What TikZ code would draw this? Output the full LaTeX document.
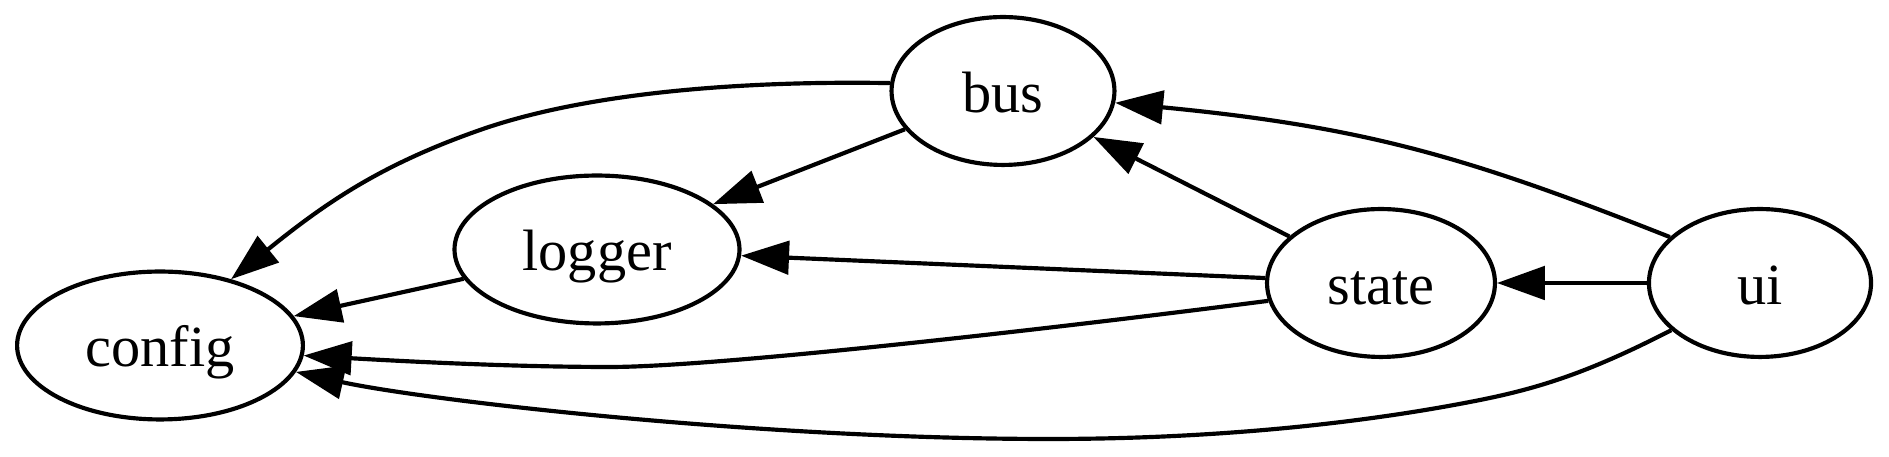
\documentclass[tikz,border=0pt]{standalone}
\usepackage{fontspec}
\setmainfont{Liberation Serif}
\usetikzlibrary{arrows.meta,shapes.geometric}
\begin{document}
\begin{tikzpicture}[x=0.24pt,y=-0.24pt,
  gnode/.style={ellipse,draw,line width=1pt,inner sep=0pt,minimum height=35.5pt,
    text height=10.2pt,text depth=0pt,font=\fontsize{14pt}{16pt}\selectfont},
  edge/.style={line width=1pt,-{Triangle[length=11.5pt,width=8pt]}}]
\useasboundingbox (0,0) rectangle (1889,457);
\node[gnode,minimum width=68.6pt] (config) at (160,345.5) {config};
\node[gnode,minimum width=68.4pt] (logger) at (597,249.5) {logger};
\node[gnode,minimum width=53.5pt] (bus) at (1003,91) {bus};
\node[gnode,minimum width=54.7pt] (state) at (1381,283) {state};
\node[gnode,minimum width=53.3pt] (ui) at (1760,283) {ui};
% edges
\draw[edge] (bus.176) .. controls (770,81) and (600,88) .. (480,130)
  .. controls (380,165) and (325.5,203) .. (config.43);
\draw[edge] (bus) -- (logger);
\draw[edge] (logger) -- (config);
\draw[edge] (state) -- (bus);
\draw[edge] (state) -- (logger);
\draw[edge] (state.189.5) .. controls (1018,333) and (710,367) .. (610,367)
  .. controls (510,367) and (399,361) .. (config.356);
\draw[edge] (ui) -- (state);
\draw[edge] (ui.153.4) .. controls (1470,158) and (1367,127) .. (bus.354.5);
\draw[edge] (ui.208.6) .. controls (1590,372) and (1540,388) .. (1480,400)
  .. controls (1350,426) and (1200,439) .. (1050,439)
  .. controls (750,439) and (418,399) .. (config.349.1);
\end{tikzpicture}
\end{document}
